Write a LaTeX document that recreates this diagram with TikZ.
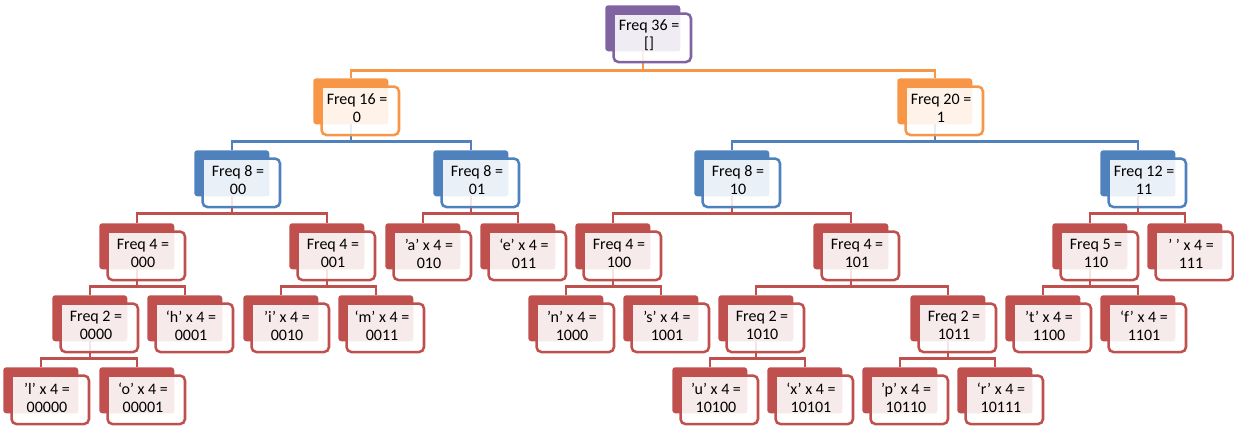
\documentclass[tikz,border=0pt]{standalone}
\usepackage{fontspec}
\setmainfont{Carlito}
\usetikzlibrary{calc,backgrounds}
\definecolor{purp}{RGB}{128,100,162}
\definecolor{oran}{RGB}{247,150,70}
\definecolor{blu}{RGB}{79,129,189}
\definecolor{redd}{RGB}{192,80,77}

\begin{document}
\begin{tikzpicture}[x=0.75pt,y=-0.75pt,
  backbox/.style={rectangle,rounded corners=2.25pt,anchor=north west,inner sep=0pt,minimum width=56.25pt,minimum height=34.5pt},
  frontbox/.style={rectangle,rounded corners=3.75pt,anchor=north west,inner sep=0pt,line width=1.9pt,fill=white,fill opacity=0.85,minimum width=58.1pt,minimum height=36.4pt},
  tintbox/.style={rectangle,inner sep=0pt,minimum width=48.75pt,minimum height=27pt},
  lbl/.style={font=\fontsize{12}{13.5}\selectfont,align=center,inner sep=0pt},
  link/.style={draw=#1,line width=1.9pt}]
\useasboundingbox (0,0) rectangle (1234,433);
% tree nodes: back plate, framed card, tinted text field
\foreach \nm/\x/\y/\col/\txt in {
  root/605/5/purp/{Freq 36 =\\{[]}},
  n0/313/78/oran/{Freq 16 =\\0}, n1/897/78/oran/{Freq 20 =\\1},
  n00/194/150/blu/{Freq 8 =\\00}, n01/433/150/blu/{Freq 8 =\\01},
  n10/694/150/blu/{Freq 8 =\\10}, n11/1100/150/blu/{Freq 12 =\\11},
  n000/99/223/redd/{Freq 4 =\\000}, n001/289/223/redd/{Freq 4 =\\001},
  n010/385/223/redd/{’a’ x 4 =\\010}, n011/480/223/redd/{‘e’ x 4 =\\011},
  n100/575/223/redd/{Freq 4 =\\100}, n101/813/223/redd/{Freq 4 =\\101},
  n110/1052/223/redd/{Freq 5 =\\110}, n111/1147/223/redd/{’ ’ x 4 =\\111},
  n0000/52/295/redd/{Freq 2 =\\0000}, n0001/147/295/redd/{‘h’ x 4 =\\0001},
  n0010/243/295/redd/{’i’ x 4 =\\0010}, n0011/338/295/redd/{‘m’ x 4 =\\0011},
  n1000/528/295/redd/{’n’ x 4 =\\1000}, n1001/623/295/redd/{’s’ x 4 =\\1001},
  n1010/718/295/redd/{Freq 2 =\\1010}, n1011/910/295/redd/{Freq 2 =\\1011},
  n1100/1005/295/redd/{’t’ x 4 =\\1100}, n1101/1100/295/redd/{‘f’ x 4 =\\1101},
  n00000/3/367/redd/{’l’ x 4 =\\00000}, n00001/99/367/redd/{‘o’ x 4 =\\00001},
  n10100/672/367/redd/{’u’ x 4 =\\10100}, n10101/767/367/redd/{‘x’ x 4 =\\10101},
  n10110/862/367/redd/{’p’ x 4 =\\10110}, n10111/957/367/redd/{‘r’ x 4 =\\10111}}{
  \node[backbox,fill=\col] (\nm) at (\x,\y) {};
  \node[frontbox,draw=\col] (\nm-f) at (\x+7.25,\y+7.25) {};
  \node[tintbox,fill=\col!12] (\nm-t) at (\x+42.5,\y+28) {};
  \node[lbl] (\nm-l) at (\x+44,\y+30.5) {\txt};
}
% connectors
\begin{scope}[on background layer]
\draw[link=oran] (root.center) -- ++(0,42) coordinate (j) -| (n0.north) (j) -| (n1.north);
\draw[link=blu] (n0.center) -- ++(0,40) coordinate (j) -| (n00.north) (j) -| (n01.north);
\draw[link=blu] (n1.center) -- ++(0,40) coordinate (j) -| (n10.north) (j) -| (n11.north);
\foreach \p/\a/\b in {n00/n000/n001, n01/n010/n011, n10/n100/n101, n11/n110/n111,
  n000/n0000/n0001, n001/n0010/n0011, n100/n1000/n1001, n101/n1010/n1011,
  n110/n1100/n1101, n0000/n00000/n00001, n1010/n10100/n10101, n1011/n10110/n10111}
  \draw[link=redd] (\p.center) -- ++(0,40) coordinate (j) -| (\a.north) (j) -| (\b.north);
\end{scope}
\end{tikzpicture}
\end{document}
